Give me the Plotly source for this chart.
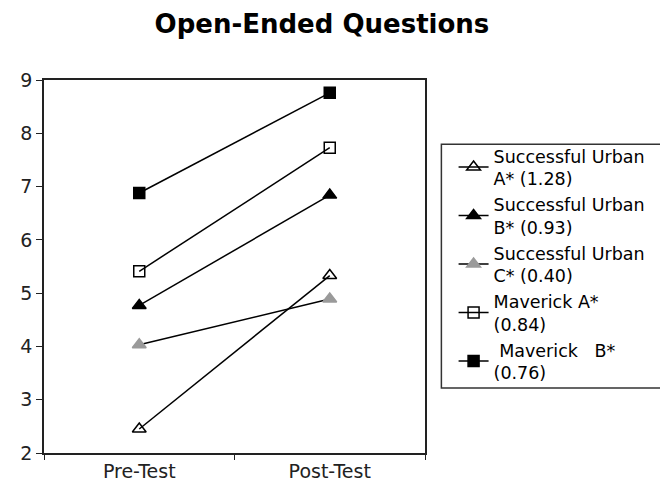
import plotly.graph_objects as go

categories = ["Pre-Test", "Post-Test"]
series_names = [
    "Successful Urban<br>A* (1.28)",
    "Successful Urban<br>B* (0.93)",
    "Successful Urban<br>C* (0.40)",
    "Maverick A*<br>(0.84)",
    " Maverick   B*<br>(0.76)",
]
su_a = [2.45, 5.33]
su_b = [4.77, 6.84]
su_c = [4.03, 4.89]
mav_a = [5.41, 7.73]
mav_b = [6.88, 8.76]
values = [su_a, su_b, su_c, mav_a, mav_b]

symbols = ["triangle-up-open", "triangle-up", "triangle-up", "square-open", "square"]
mcolors = ["black", "black", "#9a9a9a", "black", "black"]
msizes = [12, 12, 12, 11, 11]

fig = go.Figure()
for name, vals, sym, mc, ms in zip(series_names, values, symbols, mcolors, msizes):
    fig.add_trace(go.Scatter(
        x=categories, y=vals, mode="lines+markers", name=name,
        line=dict(color="black", width=1.5),
        marker=dict(symbol=sym, size=ms, color=mc,
                    line=dict(color=mc, width=1.5)),
    ))

fig.update_layout(
    width=668, height=491,
    margin=dict(l=29, r=251, t=72, b=46),
    paper_bgcolor="white", plot_bgcolor="white",
    font=dict(family="DejaVu Sans", size=18, color="black"),
    title=dict(text="<b>Open-Ended Questions</b>", x=0.470, xref="container",
               xanchor="center", y=0.968, yref="container", yanchor="middle",
               font=dict(family="DejaVu Sans", size=26, color="black")),
    showlegend=True,
    legend=dict(x=1.075, y=0.845, xanchor="left", yanchor="top",
                bgcolor="rgba(0,0,0,0)", borderwidth=0,
                font=dict(family="DejaVu Sans", size=17.5, color="black"),
                itemwidth=30, tracegroupgap=0),
    shapes=[dict(type="rect", xref="paper", yref="paper",
                 x0=1.043, x1=1.68, y0=0.174, y1=0.828,
                 line=dict(color="#333", width=1.5))],
)
fig.update_xaxes(type="category", range=[-0.5, 1.5], showline=True,
                 linecolor="#222", linewidth=1.5, mirror=True,
                 ticks="outside", tickson="boundaries", ticklen=5,
                 tickcolor="#222", showgrid=False, zeroline=False,
                 tickfont=dict(size=19, color="#222"))
fig.update_yaxes(range=[2, 9], dtick=1, showline=True, linecolor="#222",
                 linewidth=1.5, mirror=True, ticks="outside", ticklen=6,
                 tickcolor="#222", showgrid=False, zeroline=False,
                 tickfont=dict(size=19, color="#222"))

fig.write_html("out.html")
